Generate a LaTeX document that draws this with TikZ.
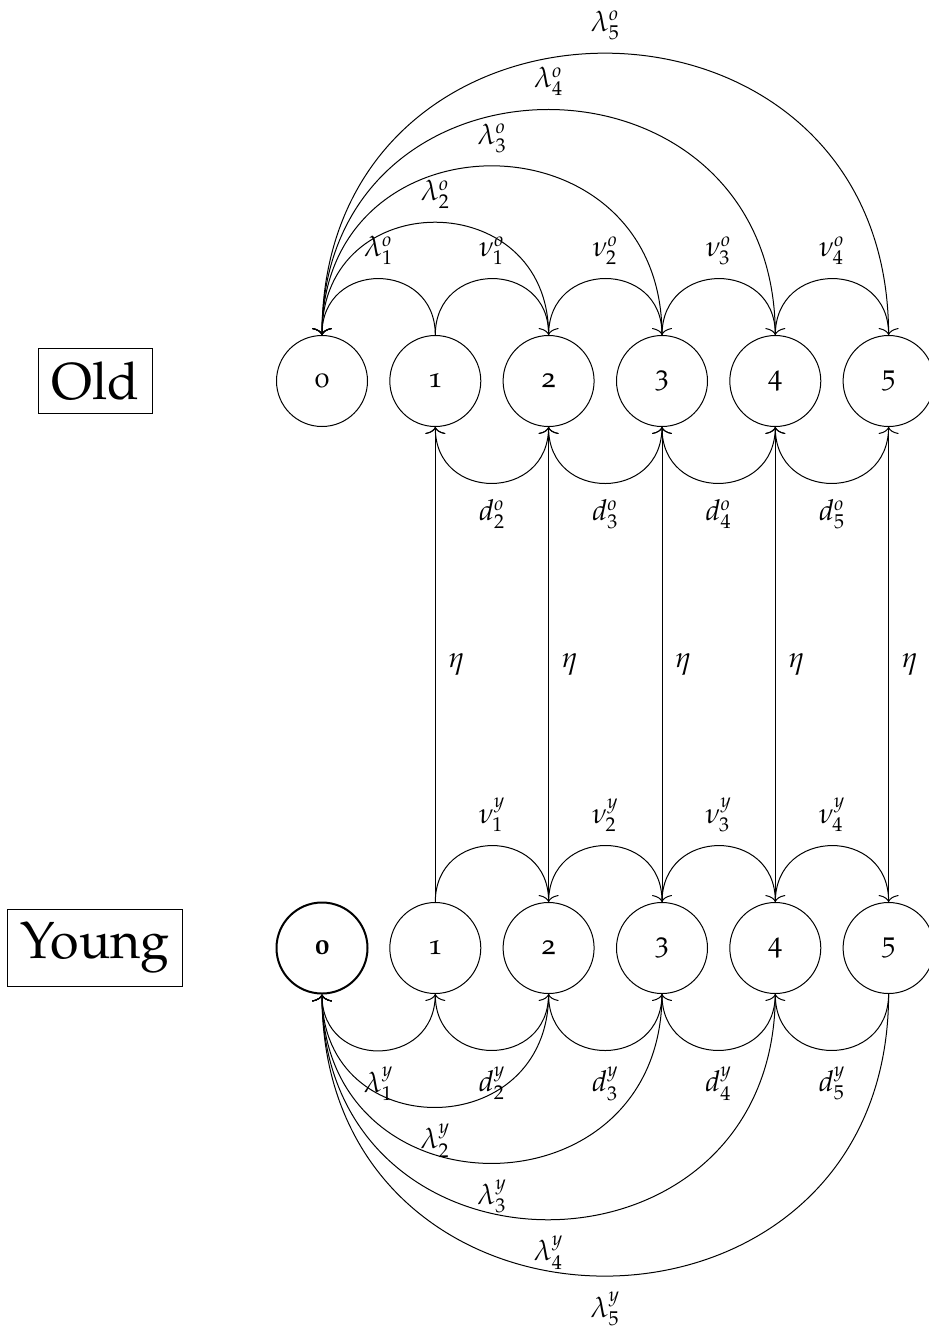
\documentclass[tikz,border=0pt]{standalone}
\usepackage[T1]{fontenc}
\usepackage[osf]{mathpazo}
\usetikzlibrary{arrows.meta}
\tikzset{
  state/.style={circle, draw, line width=0.5pt, minimum size=45.5pt, inner sep=0pt},
  agebox/.style={draw, line width=0.5pt, inner sep=6.5pt, font=\fontsize{26}{30}\selectfont},
  arr/.style={line width=0.5pt, -{To[length=3.5pt,width=10pt]}},
  up/.style={out=90, in=90, looseness=1.7},
  down/.style={out=-90, in=-90, looseness=1.7},
  ab/.style={above, yshift=3.2pt},
  be/.style={below, yshift=-4.5pt},
  ri/.style={right, xshift=3pt},
}
\begin{document}
\begin{tikzpicture}[x=0.5pt, y=-0.5pt, font=\fontsize{14.4}{17}\selectfont]
\useasboundingbox (0,0) rectangle (928,1329);
% boxes
\node[agebox] (old) at (95.5,381) {Old};
\node[agebox] (young) at (95.3,948) {Young};
% Old row
\node[state] (o0) at (322,381) {0};
\node[state] (o1) at (435.3,381) {1};
\node[state] (o2) at (548.6,381) {2};
\node[state] (o3) at (662,381) {3};
\node[state] (o4) at (775.3,381) {4};
\node[state] (o5) at (888.6,381) {5};
% Young row
\node[state, line width=1pt, font=\fontsize{14.4}{17}\selectfont\bfseries] (y0) at (322,948) {0};
\node[state] (y1) at (435.3,948) {1};
\node[state] (y2) at (548.6,948) {2};
\node[state] (y3) at (662,948) {3};
\node[state] (y4) at (775.3,948) {4};
\node[state] (y5) at (888.6,948) {5};
% Old top arcs
\draw[arr] (o1) to[up] node[ab] {$\lambda^o_1$} (o0);
\draw[arr] (o1) to[up] node[ab] {$\nu^o_1$} (o2);
\draw[arr] (o2) to[up] node[ab] {$\nu^o_2$} (o3);
\draw[arr] (o3) to[up] node[ab] {$\nu^o_3$} (o4);
\draw[arr] (o4) to[up] node[ab] {$\nu^o_4$} (o5);
\draw[arr] (o2) to[up] node[ab] {$\lambda^o_2$} (o0);
\draw[arr] (o3) to[up] node[ab] {$\lambda^o_3$} (o0);
\draw[arr] (o4) to[up] node[ab] {$\lambda^o_4$} (o0);
\draw[arr] (o5) to[up] node[ab] {$\lambda^o_5$} (o0);
% Old bottom arcs
\draw[arr] (o2) to[down] node[be] {$d^o_2$} (o1);
\draw[arr] (o3) to[down] node[be] {$d^o_3$} (o2);
\draw[arr] (o4) to[down] node[be] {$d^o_4$} (o3);
\draw[arr] (o5) to[down] node[be] {$d^o_5$} (o4);
% eta
\draw[arr] (y1) -- node[ri] {$\eta$} (o1);
\draw[arr] (y2) -- node[ri] {$\eta$} (o2);
\draw[arr] (y3) -- node[ri] {$\eta$} (o3);
\draw[arr] (y4) -- node[ri] {$\eta$} (o4);
\draw[arr] (y5) -- node[ri] {$\eta$} (o5);
% Young top arcs
\draw[arr] (y1) to[up] node[ab] {$\nu^y_1$} (y2);
\draw[arr] (y2) to[up] node[ab] {$\nu^y_2$} (y3);
\draw[arr] (y3) to[up] node[ab] {$\nu^y_3$} (y4);
\draw[arr] (y4) to[up] node[ab] {$\nu^y_4$} (y5);
% Young bottom arcs
\draw[arr] (y1) to[down] node[be] {$\lambda^y_1$} (y0);
\draw[arr] (y2) to[down] node[be] {$d^y_2$} (y1);
\draw[arr] (y3) to[down] node[be] {$d^y_3$} (y2);
\draw[arr] (y4) to[down] node[be] {$d^y_4$} (y3);
\draw[arr] (y5) to[down] node[be] {$d^y_5$} (y4);
\draw[arr] (y2) to[down] node[be] {$\lambda^y_2$} (y0);
\draw[arr] (y3) to[down] node[be] {$\lambda^y_3$} (y0);
\draw[arr] (y4) to[down] node[be] {$\lambda^y_4$} (y0);
\draw[arr] (y5) to[down] node[be] {$\lambda^y_5$} (y0);
\end{tikzpicture}
\end{document}
